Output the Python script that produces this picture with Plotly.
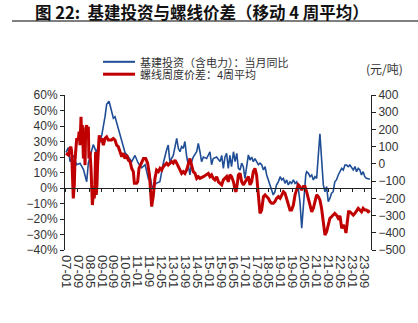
import numpy as np
import pandas as pd
import plotly.graph_objects as go

# ---------------- data ----------------
# time is given in months since 2007-01
blue_name = "基建投资（含电力）：当月同比"
red_name = "螺线周度价差：4周平均"

blue_t = [0.0, 1.6, 2.7, 4.9, 7.2, 9.4, 11.7, 13.9, 15.0, 17.2, 18.3, 20.5, 24.0, 26.2, 27.3,
          28.9, 30.6, 31.8, 32.9, 35.1, 37.4, 39.6, 41.9, 44.1, 46.3, 48.5, 50.8, 53.1, 55.3,
          56.5, 57.5, 58.6, 59.5, 60.5, 63.0, 65.3, 67.5, 68.6, 69.7, 72.0, 74.3, 75.4, 76.5,
          77.6, 78.7, 79.8, 80.9, 82.1, 83.2, 84.3, 85.4, 87.7, 88.8, 89.9, 91.0, 92.2, 94.4,
          96.6, 97.7, 98.8, 101.1, 103.4, 104.5, 105.6, 106.7, 107.8, 108.9, 110.0, 111.1,
          112.4, 113.5, 114.6, 115.7, 116.8, 117.9, 119.0, 120.1, 122.4, 123.5, 124.6, 125.7,
          126.8, 127.9, 129.1, 130.2, 131.3, 132.5, 133.6, 134.7, 135.8, 136.9, 138.0, 139.1,
          140.2, 141.3, 142.5, 143.7, 144.8, 145.9, 147.0, 148.1, 149.2, 150.3, 151.4, 152.6,
          153.7, 154.8, 155.9, 157.0, 158.2, 158.9, 159.8, 160.9, 161.5, 162.7, 163.8, 164.9,
          166.0, 167.1, 168.2, 169.3, 170.4, 171.5, 172.7, 173.8, 174.9, 176.0, 177.1, 178.2,
          179.3, 180.4, 181.5, 182.7, 183.9, 185.0, 186.1, 187.2, 188.3, 189.4, 190.5, 192.8,
          193.9, 195.0, 196.1, 197.2, 198.3, 199.4, 200.5, 201.6, 203.9]
blue_v = [23, 26, 17, 21, 15, 16, 12, 4, 16, 25, 28, 23, 34, 46, 54,
          56, 49, 45, 46, 38, 31, 23, 20, 17, 21, 16, 13, 15, 6,
          7, 2, -1, 2, 3, 4, 16, 24.5, 27.7, 17, 21, 32, 25.6, 23.4,
          26.7, 25.6, 30, 21, 15, 8.4, 17, 20, 23.4, 28.8, 23.4, 17, 20, 19,
          23.4, 15, 19, 20, 17, 21, 12.7, 20, 22.4, 12.7, 21, 13.8,
          23.4, 17, 22.4, 12.7, 11.6, 16, 13.8, 6.2, 21.3, 18, 20, 17,
          19, 17, 15, 16, 15, 11.6, 13.8, 8.4, 5.2, 2, -0.2, -4.5,
          -2.4, 2, 4, 7.3, 5.2, 6.2, 3, 5.2, 2, 4, 3, 5.2,
          3, 4, -0.2, -8.8, -26, -15, -2.4, 8.4, 10.5, 9.5, 7.3, 8.4,
          5.2, 7.3, 6.2, 19, 35, 19, 2, -2.4, 0.9, -8.8, -6.7, -3.4,
          -2.4, 4, 5.2, 8.4, 10.5, 12.7, 11.6, 14.8, 14.8, 13.8, 14.8, 11.6,
          13.8, 10.5, 12.7, 11.6, 8.4, 10.5, 7.3, 6.2, 5.6]

red_t = [0.0, 1.6, 2.7, 3.3, 3.8, 4.4, 4.9, 5.6, 6.0, 7.2, 8.3, 8.8, 9.4, 10.1, 10.5, 11.0,
         11.7, 12.3, 12.8, 13.2, 13.9, 14.5, 15.0, 15.4, 16.1, 16.8, 17.2, 17.7, 18.5, 19.0,
         19.4, 19.9, 20.3, 20.8, 21.2, 21.7, 22.3, 23.0, 24.0, 25.1, 26.2, 27.3, 28.4, 30.6,
         31.8, 32.9, 34.0, 35.1, 36.2, 37.4, 38.5, 39.6, 40.7, 41.9, 43.0, 44.1, 45.2, 45.9,
         47.4, 48.1, 49.0, 50.4, 52.0, 53.5, 54.8, 56.0, 56.6, 57.5, 58.6, 59.7, 60.8, 62.0,
         63.1, 64.2, 65.3, 66.4, 67.5, 68.6, 69.7, 70.9, 72.0, 73.2, 74.3, 75.4, 76.5, 77.6,
         78.7, 79.8, 80.9, 82.1, 83.2, 84.3, 85.4, 86.6, 87.7, 88.8, 89.9, 92.2, 94.4, 95.5,
         96.6, 97.7, 98.8, 99.9, 101.1, 102.3, 103.4, 104.5, 105.6, 106.7, 107.8, 108.9, 110.0,
         111.1, 112.4, 113.5, 114.1, 115.0, 115.7, 116.8, 117.9, 119.0, 120.1, 121.2, 122.4,
         123.5, 124.6, 125.7, 126.8, 127.9, 129.1, 130.2, 131.3, 132.5, 133.6, 134.7, 135.8,
         136.9, 138.0, 139.1, 140.2, 141.3, 142.5, 143.7, 144.8, 145.9, 147.0, 148.1, 149.2,
         150.3, 151.4, 152.6, 153.7, 154.8, 155.9, 157.0, 158.2, 159.3, 160.4, 161.5, 162.7,
         163.8, 164.9, 166.0, 167.1, 168.2, 169.3, 170.4, 171.5, 172.7, 173.8, 174.9, 176.0,
         177.1, 178.2, 179.3, 180.4, 181.5, 182.7, 183.9, 185.0, 186.1, 187.2, 187.9, 188.8,
         189.6, 190.5, 192.8, 193.9, 195.0, 196.1, 197.2, 198.3, 199.4, 200.5, 201.6, 202.8,
         203.9]
red_v = [62, 52, 90, 100, 71, -45, -200, -123, 13, 148, 139, 187, 109, 274, 148, 225,
         31, 130, -7, 206, 225, 166, 216, 31, 71, -26, -180, -239, -162, -200,
         -122, 71, -180, -122, -7, 90, 166, 130, 148, 109, 148, 157, 139, 139,
         148, 139, 109, 100, 71, 42, 62, 31, 52, 22, 13, -26, -45, -113,
         -113, -104, -26, 4, 31, 31, 4, -64, -122, -248, -185, -84, -36, -45,
         -26, -36, -16, -7, 4, -7, 4, 13, 4, 22, 4, -16, -36, -55,
         -45, -55, -36, -7, 31, -7, -45, -55, -84, -74, -84, -74, -64, -55,
         -74, -64, -84, -93, -74, -104, -113, -122, -93, -84, -74, -104, -64,
         -74, -104, -152, -162, -113, -64, -55, -104, -122, -104, -95, -74,
         -122, -104, -45, -26, -64, -200, -287, -268, -190, -180, -190,
         -200, -219, -229, -229, -219, -200, -190, -200, -180, -162, -171, -200, -229,
         -268, -268, -239, -180, -142, -122, -132, -152, -132, -132, -162, -200,
         -248, -278, -258, -209, -180, -190, -209, -258, -355, -413, -394, -355,
         -316, -307, -297, -287, -297, -316, -302, -374, -355, -374, -401, -316,
         -278, -278, -297, -287, -268, -258, -268, -278, -258, -268, -268, -278,
         -271]

left_range = [-40, 60]
right_range = [-500, 400]
x_range = ["2006-12-12", "2024-01-22"]

title_text = "<b>图 22:  基建投资与螺线价差（移动 4 周平均）</b>"
right_unit = "(元/吨)"

BLUE = "#1F4E96"
RED = "#C00000"
TXT = "#333333"
FONT = "Liberation Sans, Arial, Noto Sans CJK SC"
CJK = "Noto Sans CJK SC, Liberation Sans"

base = pd.Timestamp("2007-01-01")
def to_dates(t):
    return base + pd.to_timedelta(np.array(t) * 30.4375, unit="D")

fig = go.Figure()
fig.add_trace(go.Scatter(x=to_dates(blue_t), y=blue_v, name=blue_name, mode="lines",
                         line=dict(color=BLUE, width=1.6), xaxis="x", yaxis="y",
                         showlegend=False))
fig.add_trace(go.Scatter(x=to_dates(red_t), y=red_v, name=red_name, mode="lines",
                         line=dict(color=RED, width=3), xaxis="x", yaxis="y2",
                         showlegend=False))
# invisible helper so the zero-level tick axis (x2) is rendered
fig.add_trace(go.Scatter(x=[x_range[0]], y=[None], mode="lines", xaxis="x2", yaxis="y",
                         showlegend=False, hoverinfo="skip"))

zero_pos = (0 - left_range[0]) / (left_range[1] - left_range[0])

fig.update_layout(
    width=418, height=323,
    margin=dict(l=65, r=47, t=95, b=73),
    paper_bgcolor="white", plot_bgcolor="white",
    font=dict(family=FONT, size=12, color=TXT),
    xaxis=dict(type="date", range=x_range, tick0="2007-01-01", dtick="M8",
               tickformat="%y-%m", tickangle=90, ticks="", showline=False,
               showgrid=False, zeroline=False, tickfont=dict(size=13, color=TXT),
               ticklabelstandoff=4, anchor="y"),
    xaxis2=dict(type="date", range=x_range, tick0="2007-01-01", dtick="M8",
                overlaying="x", anchor="free", position=zero_pos, side="bottom",
                showticklabels=False, ticks="outside", ticklen=3, tickwidth=1,
                tickcolor="#222222", showline=True, linecolor="#222222", linewidth=1,
                showgrid=False, zeroline=False),
    yaxis=dict(range=left_range, dtick=10, ticksuffix="%", ticks="outside", ticklen=4,
               tickcolor="#222222", showline=True, linecolor="#222222", linewidth=1,
               showgrid=False, zeroline=False, tickfont=dict(size=12, color=TXT)),
    yaxis2=dict(range=right_range, dtick=100, overlaying="y", side="right",
                ticks="outside", ticklen=4, tickcolor="#222222", showline=True,
                linecolor="#222222", linewidth=1, showgrid=False, zeroline=False,
                tickfont=dict(size=12, color=TXT)),
)

def px_x(p):
    return (p - 65) / 306.0

def px_y(p):
    return (250 - p) / 155.0

LEG = "Liberation Sans, Noto Sans CJK SC"
shapes = [
    dict(type="line", xref="paper", yref="paper", x0=px_x(12), x1=px_x(418),
         y0=px_y(21), y1=px_y(21), line=dict(color="#555555", width=1.3)),
    dict(type="line", xref="paper", yref="paper", x0=px_x(103), x1=px_x(135),
         y0=px_y(61.8), y1=px_y(61.8), line=dict(color=BLUE, width=2)),
    dict(type="line", xref="paper", yref="paper", x0=px_x(103), x1=px_x(135),
         y0=px_y(74.2), y1=px_y(74.2), line=dict(color=RED, width=3)),
]
annotations = [
    dict(text=title_text, xref="paper", yref="paper", x=px_x(34), y=px_y(12),
         xanchor="left", yanchor="middle", showarrow=False, borderpad=0,
         font=dict(family=CJK, size=16.5, color="#111111")),
    dict(text=blue_name, xref="paper", yref="paper", x=px_x(139), y=px_y(61.8),
         xanchor="left", yanchor="middle", showarrow=False, height=12, borderpad=0,
         font=dict(family=LEG, size=11, color=TXT)),
    dict(text=red_name, xref="paper", yref="paper", x=px_x(139), y=px_y(74.2),
         xanchor="left", yanchor="middle", showarrow=False, height=12, borderpad=0,
         font=dict(family=LEG, size=11, color=TXT)),
    dict(text=right_unit, xref="paper", yref="paper", x=px_x(384), y=px_y(68),
         xanchor="center", yanchor="middle", showarrow=False,
         font=dict(family=CJK, size=12, color=TXT)),
]
fig.update_layout(shapes=shapes, annotations=annotations)

fig.write_html("out.html")
